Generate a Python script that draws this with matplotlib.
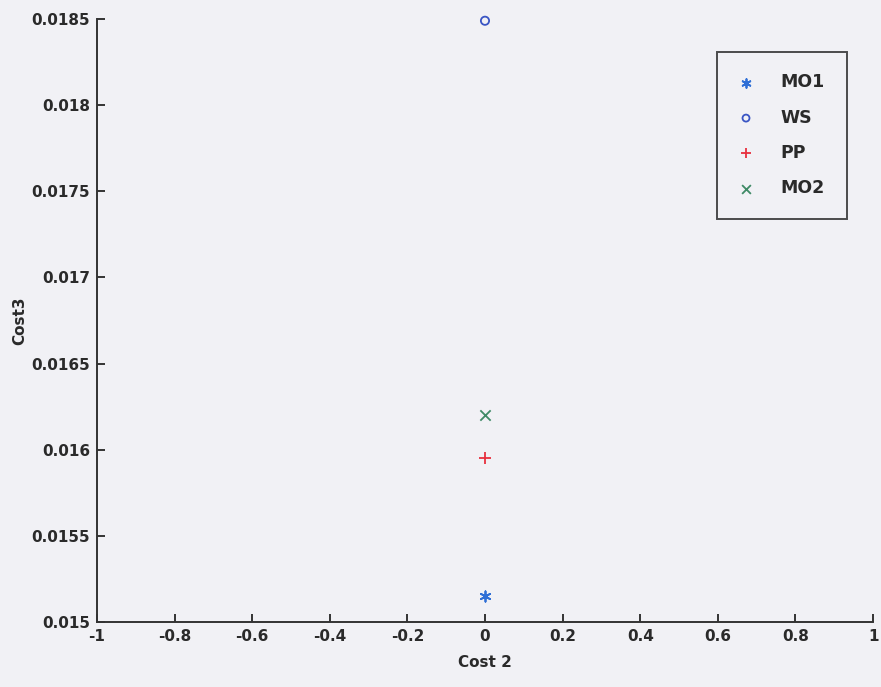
import matplotlib

matplotlib.use("Agg")
import matplotlib.pyplot as plt

# Cost 2 / Cost 3 values for each method
methods = ["MO1", "WS", "PP", "MO2"]
cost2 = [0.0, 0.0, 0.0, 0.0]
cost3 = [0.01515, 0.01849, 0.01595, 0.01620]

# MATLAB-style markers: asterisk, circle, plus, cross
markers = [(6, 2, 0), "o", "+", "x"]
colors = ["#2f6fd6", "#3a55c4", "#e8303e", "#3f8a66"]
sizes = [55, 35, 80, 55]

xticks = [-1, -0.8, -0.6, -0.4, -0.2, 0, 0.2, 0.4, 0.6, 0.8, 1]
yticks = [0.015, 0.0155, 0.016, 0.0165, 0.017, 0.0175, 0.018, 0.0185]

plt.rcParams["font.family"] = ["DejaVu Sans"]
plt.rcParams["font.weight"] = "bold"

bg = "#f1f1f5"
ink = "#2a2a2a"
fig = plt.figure(figsize=(8.81, 6.87), dpi=100, facecolor=bg)
ax = fig.add_axes([0.110, 0.0946, 0.881, 0.8777], facecolor=bg)

for name, x, y, m, c, s in zip(methods, cost2, cost3, markers, colors, sizes):
    if m == "o":
        ax.scatter(x, y, marker=m, s=s, facecolors="none", edgecolors=c,
                   linewidths=1.3, label=name, zorder=3, clip_on=False)
    else:
        ax.scatter(x, y, marker=m, s=s, color=c, linewidths=1.3,
                   label=name, zorder=3, clip_on=False)

ax.set_xlim(-1, 1)
ax.set_ylim(0.015, 0.0185)
ax.set_xticks(xticks)
ax.set_xticklabels([f"{t:g}" for t in xticks])
ax.set_yticks(yticks)
ax.set_yticklabels([f"{t:g}" for t in yticks])

for side in ("top", "right"):
    ax.spines[side].set_visible(False)
for side in ("left", "bottom"):
    ax.spines[side].set_color("#333333")
    ax.spines[side].set_linewidth(1.4)

ax.tick_params(direction="in", length=6, width=1.4, color="#333333",
               labelsize=11, labelcolor=ink, pad=5)

ax.set_xlabel("Cost 2", fontsize=11, fontweight="bold", color=ink, labelpad=8)
ax.set_ylabel("Cost3", fontsize=11, fontweight="bold", color=ink, labelpad=3)

leg = ax.legend(loc="upper right", bbox_to_anchor=(0.966, 0.946), frameon=True,
                fancybox=False, fontsize=12.5, handletextpad=1.6,
                labelspacing=1.0, borderpad=1.25, handlelength=0.8,
                borderaxespad=0, markerscale=0.85)
leg.get_frame().set_edgecolor("#222222")
leg.get_frame().set_linewidth(1.4)
leg.get_frame().set_facecolor(bg)
for t in leg.get_texts():
    t.set_color(ink)

fig.savefig("out.png", dpi=100, facecolor=bg)
